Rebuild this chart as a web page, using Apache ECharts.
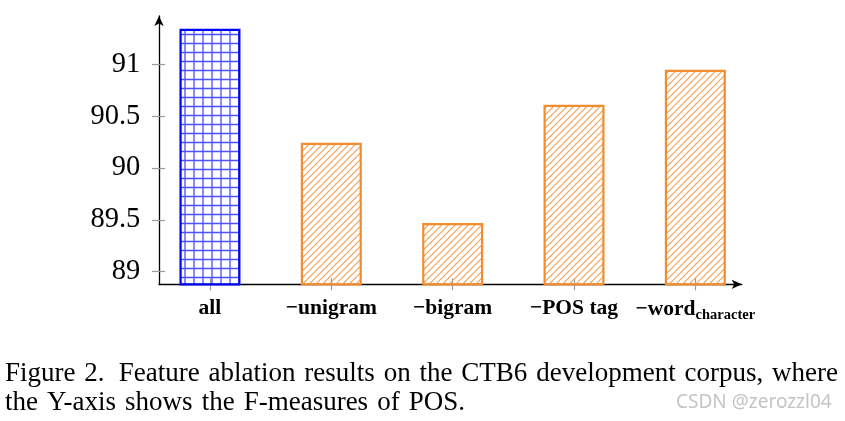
<!DOCTYPE html>
<html>
<head>
<meta charset="utf-8">
<style>
html,body{margin:0;padding:0;background:#fff;}
#chart{width:845px;height:421px;}
</style>
<script src="https://cdn.jsdelivr.net/npm/echarts@6/dist/echarts.min.js"></script>
</head>
<body>
<div id="chart"></div>
<script>
// ---- data ----
const categories = ['all', '\u2212unigram', '\u2212bigram', '\u2212POS tag', '\u2212word'];
const subscripts = ['', '', '', '', 'character'];
const values = [91.343, 90.243, 89.47, 90.61, 90.948];
const yTicks = [89, 89.5, 90, 90.5, 91];
const captionLine1 = ['Figure', '2.', 'Feature', 'ablation', 'results', 'on', 'the', 'CTB6', 'development', 'corpus,', 'where'];
const captionLine2 = ['the', 'Y-axis', 'shows', 'the', 'F-measures', 'of', 'POS.'];

// ---- layout / style ----
const serif = '"Liberation Serif", "DejaVu Serif", serif';
const capFont = '27px ' + serif;

function gridPattern() {
  const c = document.createElement('canvas');
  c.width = 9; c.height = 9;
  const g = c.getContext('2d');
  g.strokeStyle = 'rgba(20,20,255,0.75)';
  g.lineWidth = 1.3;
  g.beginPath();
  g.moveTo(5, 0); g.lineTo(5, 9);
  g.moveTo(0, 7.5); g.lineTo(9, 7.5);
  g.stroke();
  return c;
}
function hatchPattern() {
  const N = 20, k = 3;
  const c = document.createElement('canvas');
  c.width = N; c.height = N;
  const g = c.getContext('2d');
  g.strokeStyle = '#f5a055';
  g.lineWidth = 1.1;
  g.beginPath();
  for (let cc = -N; cc <= 2 * N; cc += N / k) {
    g.moveTo(cc - N, 2 * N); g.lineTo(cc + N, 0);
  }
  g.stroke();
  return c;
}
const blueFill = { image: gridPattern(), repeat: 'repeat' };
const orangeFill = { image: hatchPattern(), repeat: 'repeat' };

const idx = categories.map((_, i) => i);
const barData = values.map((v, i) => ({
  value: [i, v],
  itemStyle: i === 0
    ? { color: blueFill, borderColor: '#0000ff', borderWidth: 2.2 }
    : { color: orangeFill, borderColor: '#f28c2e', borderWidth: 2.2 }
}));

// justified caption lines
const mc = document.createElement('canvas').getContext('2d');
mc.font = capFont;
const graphics = [];
function placeLine(words, left, right, y, extraGapAfter) {
  const widths = words.map(w => mc.measureText(w).width);
  const totalW = widths.reduce((a, b) => a + b, 0);
  const weights = words.slice(0, -1).map((w, i) => (i === extraGapAfter ? 1.6 : 1));
  const unit = (right - left - totalW) / weights.reduce((a, b) => a + b, 0);
  let cx = left;
  words.forEach((w, i) => {
    graphics.push({
      type: 'text', x: cx, y: y,
      style: { text: w, font: capFont, fill: '#000', verticalAlign: 'middle', align: 'left' }
    });
    cx += widths[i] + (i < weights.length ? weights[i] * unit : 0);
  });
}
placeLine(captionLine1, 5, 838, 374, 1);
placeLine(captionLine2, 5, 465, 403, -1);
graphics.push({
  type: 'text', x: 676, y: 403,
  style: { text: 'CSDN @zerozzl04', font: '19px "Noto Sans", sans-serif', fill: '#c4c4c4', verticalAlign: 'middle', align: 'left' }
});

const xLo = -0.42, xHi = 4.382;
const yLo = 88.878, yHi = 91.466;

const chart = echarts.init(document.getElementById('chart'), null, { renderer: 'canvas' });
chart.setOption({
  animation: false,
  backgroundColor: '#fff',
  grid: { left: 159, right: 103.3, top: 16, bottom: 136.7, containLabel: false },
  xAxis: [
    {
      type: 'value', min: xLo, max: xHi, position: 'bottom',
      axisLine: { show: true, onZero: false, lineStyle: { color: '#000', width: 1.3 }, symbol: ['none', 'arrow'], symbolSize: [7, 10] },
      axisTick: { show: true, inside: false, length: 6, customValues: idx, lineStyle: { color: '#9a9a9a', width: 1.2 } },
      axisLabel: {
        show: true, customValues: idx, margin: 13,
        fontFamily: serif, fontSize: 21.5, fontWeight: 'bold', color: '#000',
        formatter: function (v) {
          const i = Math.round(v);
          return subscripts[i] ? categories[i] + '{sub|' + subscripts[i] + '}' : categories[i];
        },
        rich: { sub: { fontFamily: serif, fontSize: 14.5, fontWeight: 'bold', color: '#000', padding: [10, 0, 0, 0] } }
      },
      splitLine: { show: false }
    },
    {
      type: 'value', min: xLo, max: xHi, position: 'bottom',
      axisLine: { show: false, onZero: false },
      axisTick: { show: true, inside: true, length: 6, customValues: idx, lineStyle: { color: '#9a9a9a', width: 1.2 } },
      axisLabel: { show: false },
      splitLine: { show: false }
    }
  ],
  yAxis: [
    {
      type: 'value', min: yLo, max: yHi, position: 'left',
      axisLine: { show: true, onZero: false, lineStyle: { color: '#000', width: 1.3 }, symbol: ['none', 'arrow'], symbolSize: [7, 10] },
      axisTick: { show: true, inside: false, length: 7, customValues: yTicks, lineStyle: { color: '#9a9a9a', width: 1.2 } },
      axisLabel: {
        show: true, customValues: yTicks, margin: 18.7,
        fontFamily: serif, fontSize: 28.5, color: '#000',
        formatter: function (v) { return String(Math.round(v * 10) / 10); }
      },
      splitLine: { show: false }
    },
    {
      type: 'value', min: yLo, max: yHi, position: 'left',
      axisLine: { show: false, onZero: false },
      axisTick: { show: true, inside: true, length: 6, customValues: yTicks, lineStyle: { color: '#9a9a9a', width: 1.2 } },
      axisLabel: { show: false },
      splitLine: { show: false }
    }
  ],
  series: [{
    type: 'bar',
    xAxisIndex: 0, yAxisIndex: 0,
    barWidth: 61,
    data: barData,
    z: 1
  }],
  graphic: graphics
});
</script>
</body>
</html>
